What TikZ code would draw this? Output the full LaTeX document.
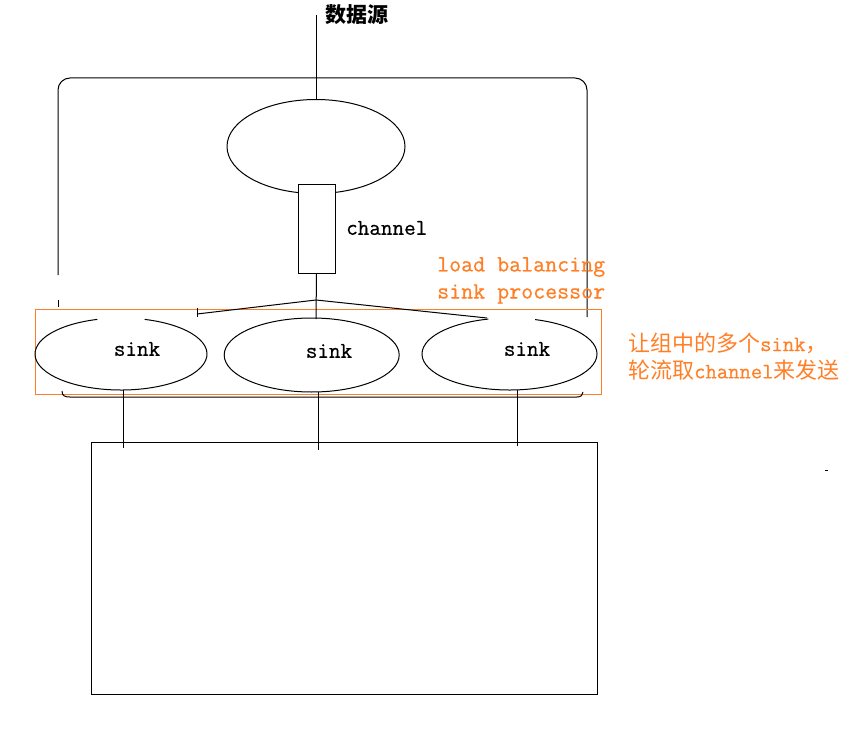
\documentclass[tikz,border=0pt]{standalone}
\usepackage{fontspec}
\usetikzlibrary{shapes.geometric,calc}
\newfontfamily\cjk{Noto Sans CJK SC}
\newfontfamily\mono[FakeBold=0.6]{Latin Modern Mono}
\definecolor{paintorange}{RGB}{255,127,39}
\tikzset{
  ln/.style={draw=black,line width=1pt},
  lat/.style={font=\fontsize{22.5}{22}\selectfont\mono,inner sep=0pt},
  orangetxt/.style={font=\fontsize{23.3}{22}\selectfont\mono,text=paintorange,inner sep=0pt,anchor=west},
}
\begin{document}
\begin{tikzpicture}[x=1pt,y=-1pt]
\useasboundingbox (0,0) rectangle (854,749);
% title
\node[font=\fontsize{21}{21}\selectfont\cjk\bfseries,anchor=west,inner sep=0pt] (title) at (325,15) {数据源};
\coordinate (feed) at (316,15);
% outer rounded frame
\draw[ln,rounded corners=12pt] (58,275) -- (58,78) -- (587,78) -- (587,317);
\draw[ln] (58,300) -- (58,307);
% source ellipse
\node[ellipse,ln,minimum width=178,minimum height=94,inner sep=0pt] (src) at (316,146.5) {};
\draw[ln] (feed) -- (src.north);
% channel
\node[rectangle,ln,fill=white,minimum width=37,minimum height=89,inner sep=0pt] (ch) at (316.5,228.5) {};
\node[lat,anchor=west] (chlab) at (346,228) {channel};
% orange group box
\node[draw=paintorange,line width=1pt,minimum width=566,minimum height=85,inner sep=0pt] (grp) at (318,351.5) {};
\node[orangetxt] (lb1) at (437,267) {load balancing};
\node[orangetxt] (lb2) at (437,294) {sink processor};
% sinks
\coordinate (s1) at (121,354);
\coordinate (s2) at (311.7,355);
\coordinate (s3) at (509.5,354);
\draw[ln] ($(s1)+(-74:86 and 36)$) arc[start angle=-74,end angle=254,x radius=86,y radius=36];
\draw[ln] (s2) ellipse[x radius=87.5,y radius=37];
\draw[ln] ($(s3)+(-73:87.5 and 36)$) arc[start angle=-73,end angle=256,x radius=87.5,y radius=36];
\node[lat] (k1) at (137,349) {sink};
\node[lat] (k2) at (329,351) {sink};
\node[lat] (k3) at (527,349) {sink};
% brace on top
\coordinate (apex) at (316,300);
\coordinate (s2top) at (316,319);
\draw[ln] (ch.south) -- (s2top);
\draw[ln] (197,308) -- (197,317);
\draw[ln] (197,314) -- (apex) -- (487,318);
% brace below
\draw[ln] (62,391) .. controls (62,396) and (65,397) .. (70,397) -- (577,397) .. controls (581,397) and (583,395) .. (583,392);
% big box
\node[rectangle,ln,minimum width=506,minimum height=252,inner sep=0pt] (big) at (344,568) {};
\coordinate (b1) at (123,390);
\coordinate (b2) at (318,392);
\coordinate (b3) at (517,390);
\draw[ln] (b1) -- (123,448);
\draw[ln] (b2) -- (318,450);
\draw[ln] (b3) -- (517,446);
% side note
\node[font=\fontsize{22}{22}\selectfont,text=paintorange,anchor=west,inner sep=0pt] (n1) at (628,343) {{\cjk 让组中的多个}{\mono sink}{\cjk ，}};
\node[font=\fontsize{22}{22}\selectfont,text=paintorange,anchor=west,inner sep=0pt] (n2) at (628,370) {{\cjk 轮流取}{\mono channel}{\cjk 来发送}};
\draw[line width=1pt] (825,470) -- (828,470);
\end{tikzpicture}
\end{document}
